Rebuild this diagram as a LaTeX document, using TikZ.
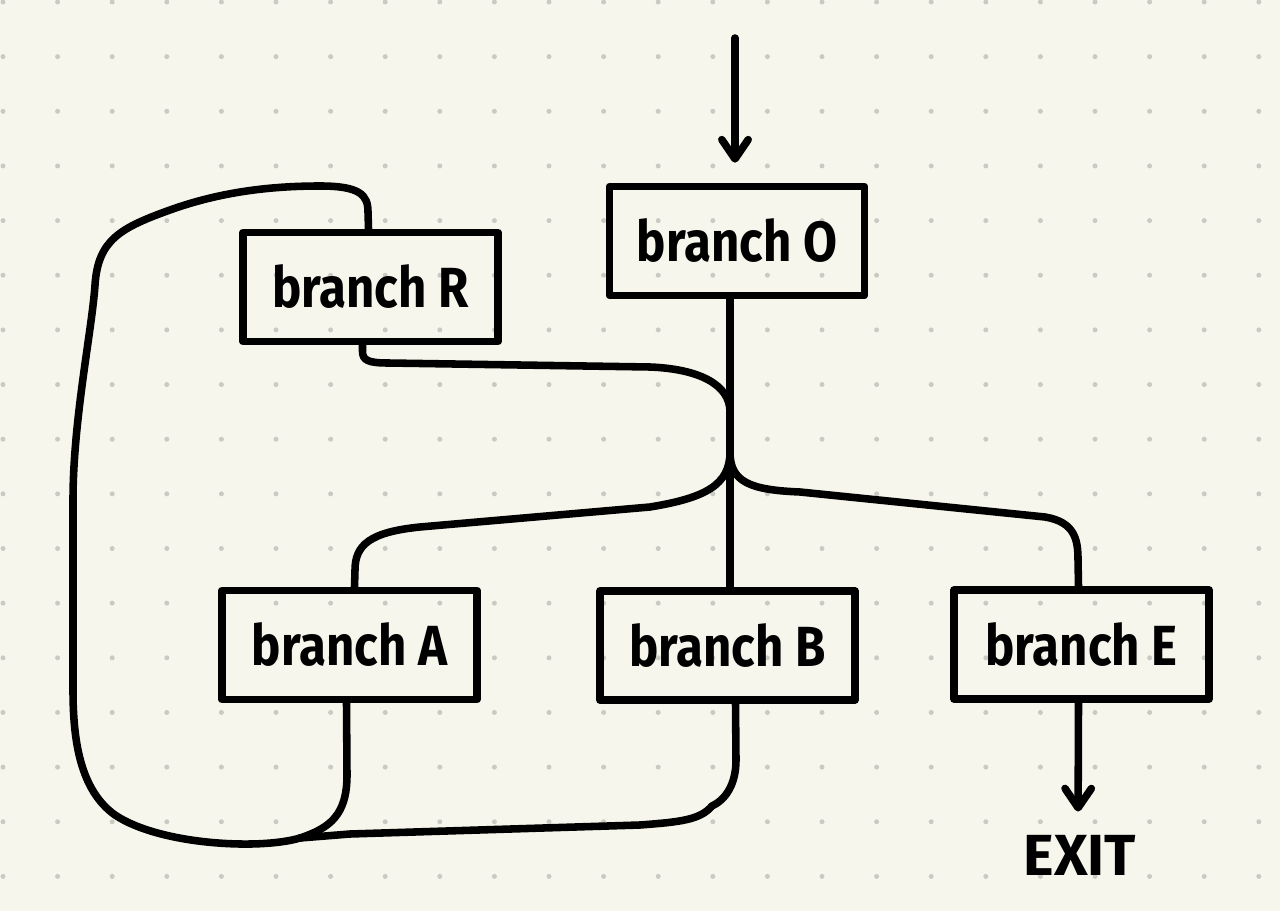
\documentclass[tikz,border=0pt]{standalone}
\usepackage{fontspec}
\setmainfont{Fira Sans}
\usetikzlibrary{arrows.meta,calc}
\definecolor{paper}{RGB}{246,246,236}
\definecolor{dotc}{RGB}{202,202,196}
\newcommand\hwtext[1]{\scalebox{1}[1.15]{#1}}
\begin{document}
\begin{tikzpicture}[x=0.02cm,y=-0.02cm,
  pen/.style={line width=4.3pt, line cap=round, line join=round, draw=black},
  box/.style={pen, rectangle, minimum width=5.1cm, minimum height=2.18cm, inner sep=0pt, font=\fontsize{28}{30}\selectfont\bfseries},
  tip/.style={-{Straight Barb[length=11pt,width=15pt,round]}}
]
\fill[paper] (0,0) rectangle (1280,911);
\useasboundingbox (0,0) rectangle (1280,911);
\foreach \i in {0,...,23}{\foreach \j in {0,...,16}{\fill[dotc] ({3+54.6*\i},{2+54.65*\j}) circle (0.05cm);}}

\node[box] (O) at (737,241) {\hwtext{branch O}};
\node[box] (R) at (370.5,287) {\hwtext{branch R}};
\node[box] (A) at (349.5,645) {\hwtext{branch A}};
\node[box] (B) at (727.5,645.5) {\hwtext{branch B}};
\node[box] (E) at (1081.5,644.5) {\hwtext{branch E}};
\node[inner sep=0pt, font=\fontsize{33}{36}\selectfont\bfseries] (X) at (1080,855) {EXIT};

\coordinate (start) at (735,38);
\coordinate (tx) at (730,0);
\coordinate (jR) at (730,412);
\coordinate (jA) at (730,452);
\coordinate (m) at (300,838);

% entry
\draw[pen, tip, shorten >=0.4cm] (start) -- (start |- O.north);
% trunk
\draw[pen] (O.south -| tx) -- (B.north -| tx);
% to R
\draw[pen] ($(R.south)+(-8,0)$) -- ++(0,6) .. controls +(0,9) and (368,363) .. (388,363) -- (650,367) .. controls (700,369) and (730,385) .. (jR);
% to A
\draw[pen] (jA) .. controls (730,485) and (705,498) .. (650,507) -- (420,527) .. controls (370,532) and (355,545) .. (355,570) -- ($(A.north)+(5,0)$);
% to E
\draw[pen] (jA) .. controls (730,482) and (750,490) .. (800,492) -- (1045,517) .. controls (1075,522) and (1078,540) .. (1078,560) -- ($(E.north)+(-3,0)$);
% from B back
\draw[pen] ($(B.south)+(8,0)$) -- (736,760) .. controls (736,785) and (725,800) .. (712,806) .. controls (700,820) and (680,822) .. (640,825) -- (350,834) -- (m);
% from A back
\draw[pen] ($(A.south)+(-3,0)$) -- (347,775) .. controls (347,815) and (330,828) .. (m);
% big loop to R
\draw[pen] (m) .. controls (260,850) and (160,845) .. (115,815) .. controls (80,790) and (73,740) .. (73,690) -- (73,500) .. controls (73,420) and (92,330) .. (95,285) .. controls (98,240) and (120,228) .. (170,210) .. controls (220,192) and (270,186) .. (320,186) .. controls (360,186) and (368,195) .. (368,212) -- ($(R.north)+(-2,0)$);
% exit
\draw[pen, tip, shorten >=0.46cm] ($(E.south)+(-3,0)$) -- ($(X.north)+(-2,0)$);
\end{tikzpicture}
\end{document}
